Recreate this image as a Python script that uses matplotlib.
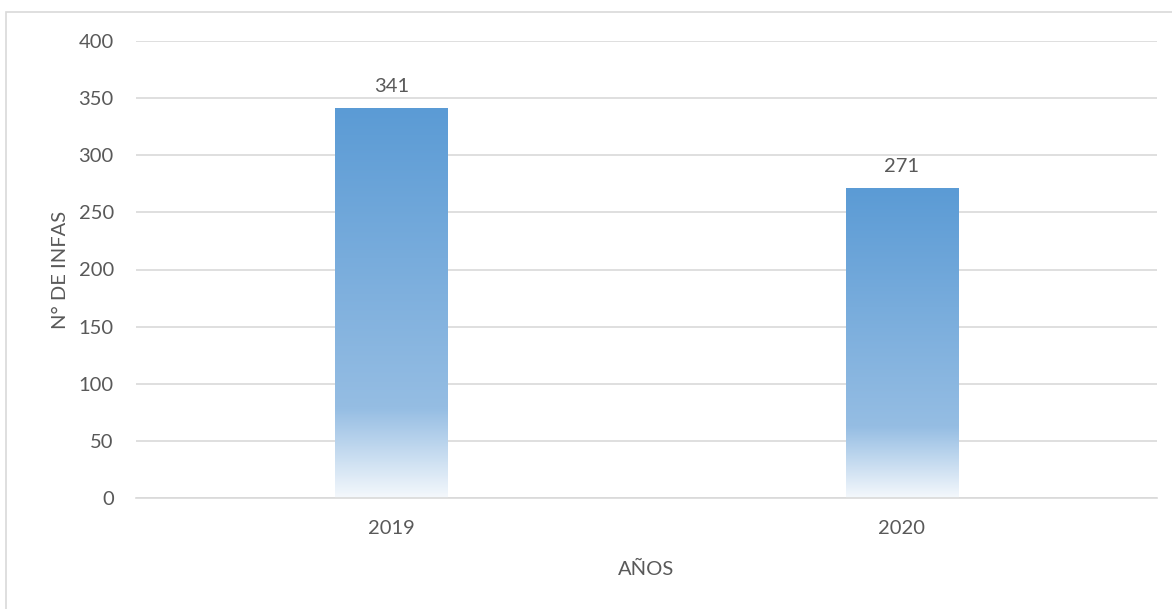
#!/usr/bin/env python3
"""Bar chart of INFAS per year, Excel style with gradient bars."""

import matplotlib
matplotlib.use("Agg")
import matplotlib.pyplot as plt
import numpy as np
from matplotlib.colors import LinearSegmentedColormap
from matplotlib.patches import Rectangle

years = ["2019", "2020"]
counts = [341, 271]

TEXT = "#595959"
GRID = "#D9D9D9"
grad = LinearSegmentedColormap.from_list(
    "bar", [(0.0, "#F4F8FC"), (0.23, "#95BDE3"), (1.0, "#5B9BD5")])

plt.rcParams["font.family"] = ["Lato", "DejaVu Sans"]
FS = 14.5

W, H = 1172, 609
fig = plt.figure(figsize=(W / 100, H / 100), dpi=100)
ax = fig.add_axes([136 / W, 1 - 498 / H, (1157 - 136) / W, (498 - 41) / H])

# chart frame (right/bottom edges run off the image)
fig.patches.append(Rectangle((6 / W, -0.1), 1.2, 1 - 12 / H + 0.1,
                             transform=fig.transFigure, fill=False,
                             edgecolor=GRID, linewidth=1.2, zorder=0))

x = np.arange(len(years))
bw = 0.22
bars = ax.bar(x, counts, width=bw, color="none", zorder=2)
g = np.linspace(0, 1, 256).reshape(-1, 1)
for b, v in zip(bars, counts):
    x0 = b.get_x()
    ax.imshow(g, cmap=grad, aspect="auto", origin="lower",
              extent=[x0, x0 + bw, 0, v], zorder=2, interpolation="bilinear")
    ax.text(b.get_x() + bw / 2, v + 12, str(v), ha="center", va="bottom",
            fontsize=FS, color=TEXT)

ax.set_xlim(-0.5, len(years) - 0.5)
ax.set_ylim(0, 400)
ax.set_yticks(range(0, 401, 50))
ax.set_xticks(x)
ax.set_xticklabels(years)
ax.yaxis.grid(True, color=GRID, linewidth=1.2)
ax.set_axisbelow(True)
for s in ["top", "right", "left"]:
    ax.spines[s].set_visible(False)
ax.spines["bottom"].set_color(GRID)
ax.spines["bottom"].set_linewidth(1.2)
ax.tick_params(length=0, colors=TEXT, labelsize=FS)
ax.tick_params(axis="y", pad=16)
ax.tick_params(axis="x", pad=16)

ax.set_ylabel("N° DE INFAS", fontsize=FS, color=TEXT, labelpad=7)
ax.set_xlabel("AÑOS", fontsize=FS, color=TEXT, labelpad=17)

fig.savefig("out.png", dpi=100, facecolor="white")
